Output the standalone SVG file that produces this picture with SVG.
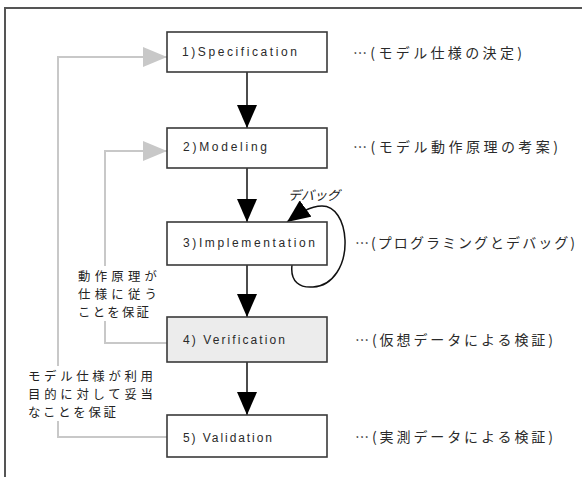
<svg xmlns="http://www.w3.org/2000/svg" width="582" height="477" viewBox="0 0 582 477">
<style>
.box{fill:#ffffff;stroke:#3a3a3a;stroke-width:1.6}
.box4{fill:#ececec;stroke:#3a3a3a;stroke-width:1.6}
.lbl{font-family:"Liberation Sans",Arial,sans-serif;font-size:12px;fill:#2a2a2a}
.jp{font-family:"Noto Sans CJK JP","Noto Sans CJK SC",sans-serif;font-size:12.4px;fill:#222}
.note{font-family:"Noto Sans CJK JP","Noto Sans CJK SC",sans-serif;font-size:14px;fill:#2a2a2a}
.flow{stroke:#111;stroke-width:1.5;fill:none}
.back{stroke:#c8c8c8;stroke-width:2;fill:none}
.mask{fill:#ffffff}
</style>
<defs>
<marker id="ab" markerUnits="userSpaceOnUse" markerWidth="23" markerHeight="20" refX="23" refY="10" orient="auto" viewBox="0 0 23 20">
<path d="M0,0 L23,10 L0,20 Z" fill="#000"/>
</marker>
<marker id="ag" markerUnits="userSpaceOnUse" markerWidth="24" markerHeight="20" refX="24" refY="10" orient="auto" viewBox="0 0 24 20">
<path d="M0,0 L24,10 L0,20 Z" fill="#c8c8c8"/>
</marker>
</defs>
<rect x="0" y="0" width="582" height="477" fill="#ffffff"/>
<path d="M5,477 V8 H582" fill="none" stroke="#555" stroke-width="2"/>

<g id="connectors">
<line class="flow" x1="247" y1="72" x2="247" y2="128" marker-end="url(#ab)"/>
<line class="flow" x1="247" y1="168" x2="247" y2="222" marker-end="url(#ab)"/>
<line class="flow" x1="247" y1="265" x2="247" y2="317" marker-end="url(#ab)"/>
<line class="flow" x1="247" y1="362" x2="247" y2="415" marker-end="url(#ab)"/>
<path class="flow" d="M292,265 C290,282 300,288 313,287 C333,286 346,265 345,240 C344,220 335,206 322,206 C310,206 298,214 287,222" stroke-width="1.3" marker-end="url(#ab)"/>
<path class="back" d="M168,437 H58 V57 H167" marker-end="url(#ag)"/>
<path class="back" d="M168,343 H105 V151 H167" marker-end="url(#ag)"/>
<text class="jp" x="288" y="200" font-style="italic" style="font-size:13px">デバッグ</text>
<rect class="mask" x="76" y="266" width="83" height="55"/>
<text class="jp" x="78" y="281" textLength="79" lengthAdjust="spacing">動作原理が</text>
<text class="jp" x="78" y="299" textLength="79" lengthAdjust="spacing">仕様に従う</text>
<text class="jp" x="78" y="317" textLength="71" lengthAdjust="spacing">ことを保証</text>
<rect class="mask" x="26" y="366" width="130" height="55"/>
<text class="jp" x="28" y="381" textLength="125" lengthAdjust="spacing">モデル仕様が利用</text>
<text class="jp" x="28" y="399" textLength="125" lengthAdjust="spacing">目的に対して妥当</text>
<text class="jp" x="28" y="417" textLength="88" lengthAdjust="spacing">なことを保証</text>
</g>

<g id="node1">
<rect class="box" x="167" y="32" width="160" height="40"/>
<text class="lbl" x="182" y="56" textLength="115" lengthAdjust="spacing">1)Specification</text>
<text class="note" x="353" y="58" textLength="169" lengthAdjust="spacing">…(モデル仕様の決定)</text>
</g>
<g id="node2">
<rect class="box" x="167" y="128" width="160" height="40"/>
<text class="lbl" x="183" y="151" textLength="84" lengthAdjust="spacing">2)Modeling</text>
<text class="note" x="353" y="152" textLength="205" lengthAdjust="spacing">…(モデル動作原理の考案)</text>
</g>
<g id="node3">
<rect class="box" x="167" y="222" width="160" height="43"/>
<text class="lbl" x="183" y="247" textLength="132" lengthAdjust="spacing">3)Implementation</text>
<text class="note" x="355" y="248" textLength="220" lengthAdjust="spacing">…(プログラミングとデバッグ)</text>
</g>
<g id="node4">
<rect class="box4" x="167" y="317" width="160" height="45"/>
<text class="lbl" x="183" y="344" textLength="102" lengthAdjust="spacing">4) Verification</text>
<text class="note" x="355" y="345" textLength="198" lengthAdjust="spacing">…(仮想データによる検証)</text>
</g>
<g id="node5">
<rect class="box" x="167" y="415" width="160" height="42"/>
<text class="lbl" x="183" y="442" textLength="89" lengthAdjust="spacing">5) Validation</text>
<text class="note" x="355" y="442" textLength="198" lengthAdjust="spacing">…(実測データによる検証)</text>
</g>
</svg>
